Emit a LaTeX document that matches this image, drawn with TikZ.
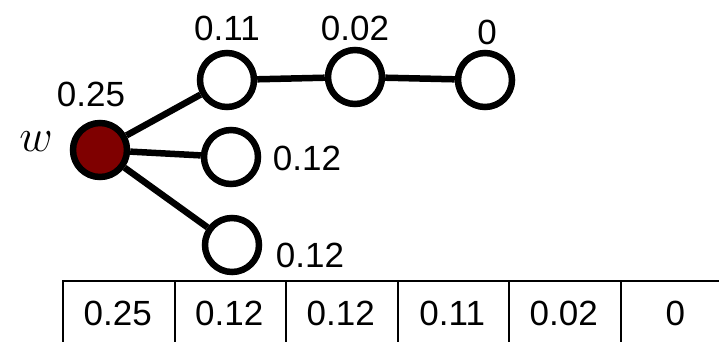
\RequirePackage{fix-cm}
\documentclass[tikz,border=0pt]{standalone}
\usepackage{fontspec}
\setmainfont{Liberation Sans}
\definecolor{nodered}{RGB}{127,0,0}
\begin{document}
\begin{tikzpicture}[x=1pt,y=-1pt,
  vert/.style={circle,draw=black,line width=6.5pt,fill=white,minimum size=54pt,inner sep=0pt},
  edge/.style={line width=6.5pt},
  lab/.style={inner sep=0pt,font=\fontsize{35}{40}\selectfont},
  cell/.style={draw=black,line width=2pt,minimum width=111.5pt,minimum height=80pt,anchor=north west,inner sep=0pt,text depth=0pt}
]
\useasboundingbox (0,0) rectangle (719,341);
\begin{scope}
\clip (0,0) rectangle (719,341);
% table
\foreach \i/\t in {0/0.25,1/0.12,2/0.12,3/0.11,4/0.02,5/0} {
  \node[cell] (c\i) at ({62+111.5*\i},280) {};
  \node[lab] (t\i) at ({62+111.5*\i+55.75},313) {\t};
}
\end{scope}
% nodes
\node[vert,fill=nodered] (w) at (100,150) {};
\node[vert] (a) at (227,80) {};
\node[vert] (b) at (231,157) {};
\node[vert] (c) at (232,245) {};
\node[vert] (d) at (355,77) {};
\node[vert] (e) at (485,80) {};
% edges
\draw[edge] (w) -- (a);
\draw[edge] (w) -- (b);
\draw[edge] (w) -- (c);
\draw[edge] (a) -- (d);
\draw[edge] (d) -- (e);
% labels
\node[lab] (lw) at (91,94) {0.25};
\node[inner sep=0pt,font=\fontsize{46}{50}\selectfont] (wl) at (36,142) {$w$};
\node[lab] (la) at (227,28) {0.11};
\node[lab] (ld) at (355,28) {0.02};
\node[lab] (le) at (487,32) {0};
\node[lab] (lb) at (307,158) {0.12};
\node[lab] (lc) at (310,255) {0.12};
\end{tikzpicture}
\end{document}
